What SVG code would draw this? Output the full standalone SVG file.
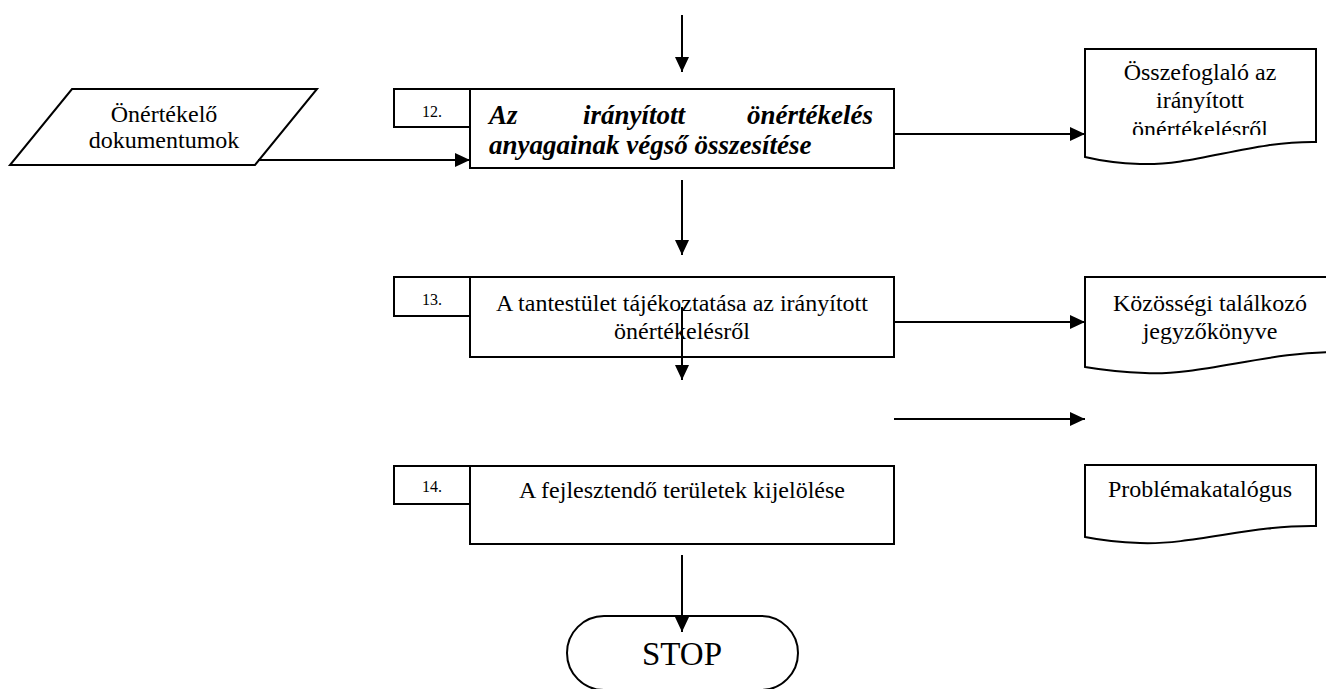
<svg xmlns="http://www.w3.org/2000/svg" width="1326" height="689" viewBox="0 0 1326 689">
  <style>
    .shape { fill: #ffffff; stroke: #000000; stroke-width: 2; }
    .conn { fill: none; stroke: #000000; stroke-width: 2; marker-end: url(#arrow); }
    text { font-family: "Liberation Serif", "Times New Roman", serif; fill: #000000; }
    .lbl { font-size: 24px; text-anchor: middle; }
    .num { font-size: 16px; text-anchor: middle; }
    .title { font-size: 27px; font-weight: bold; font-style: italic; }
    .stop { font-size: 33px; text-anchor: middle; }
  </style>
  <defs>
    <marker id="arrow" markerUnits="userSpaceOnUse" markerWidth="16" markerHeight="16" refX="15" refY="7" orient="auto">
      <path d="M0,0 L15,7 L0,14 Z" fill="#000000"/>
    </marker>
    <clipPath id="clip-doc1">
      <rect x="1085" y="49" width="231" height="86"/>
    </clipPath>
  </defs>
  <rect width="1326" height="689" fill="#ffffff"/>

  <!-- input documents -->
  <g id="input-docs">
    <polygon class="shape" points="72,89 317,89 255,165 10,165"/>
    <text class="lbl" x="164" y="122">Önértékelő</text>
    <text class="lbl" x="164" y="148">dokumentumok</text>
  </g>

  <!-- step 12 -->
  <g id="step12">
    <rect class="shape" x="470" y="89" width="424" height="79"/>
    <rect class="shape" x="394" y="89" width="76" height="38"/>
    <text class="num" x="432" y="117">12.</text>
    <text class="title" y="124"><tspan x="489">Az</tspan><tspan x="583">irányított</tspan><tspan x="873" text-anchor="end">önértékelés</tspan></text>
    <text class="title" x="489" y="154">anyagainak végső összesítése</text>
  </g>

  <!-- summary document -->
  <g id="doc-summary">
    <path class="shape" d="M1085,49 H1316 V142 C1250,141 1195,166 1140,164 Q1110,163 1085,157 Z"/>
    <text class="lbl" x="1200" y="80">Összefoglaló az</text>
    <text class="lbl" x="1200" y="108">irányított</text>
    <text class="lbl" x="1200" y="137" clip-path="url(#clip-doc1)">önértékelésről</text>
  </g>

  <!-- step 13 -->
  <g id="step13">
    <rect class="shape" x="470" y="277" width="424" height="80"/>
    <rect class="shape" x="394" y="277" width="76" height="39"/>
    <text class="num" x="432" y="305">13.</text>
    <text class="lbl" x="682" y="311">A tantestület tájékoztatása az irányított</text>
    <text class="lbl" x="682" y="339">önértékelésről</text>
  </g>

  <!-- meeting minutes document -->
  <g id="doc-minutes">
    <path class="shape" d="M1085,277 H1340 V352 C1270,351 1200,376 1145,373 Q1115,372 1085,367 Z"/>
    <text class="lbl" x="1210" y="311">Közösségi találkozó</text>
    <text class="lbl" x="1210" y="339">jegyzőkönyve</text>
  </g>

  <!-- step 14 -->
  <g id="step14">
    <rect class="shape" x="470" y="466" width="424" height="78"/>
    <rect class="shape" x="394" y="466" width="76" height="38"/>
    <text class="num" x="432" y="492">14.</text>
    <text class="lbl" x="682" y="498">A fejlesztendő területek kijelölése</text>
  </g>

  <!-- problem catalogue document -->
  <g id="doc-catalogue">
    <path class="shape" d="M1085,465 H1316 V526 C1250,525 1195,545 1140,543 Q1110,542 1085,537 Z"/>
    <text class="lbl" x="1200" y="497">Problémakatalógus</text>
  </g>

  <!-- terminator -->
  <g id="stop">
    <rect class="shape" x="567" y="616" width="231" height="74" rx="37" ry="37"/>
    <text class="stop" x="682" y="665">STOP</text>
  </g>

  <!-- connectors -->
  <g id="connectors">
    <path class="conn" d="M682,15 V72"/>
    <path class="conn" d="M258,160 H470"/>
    <path class="conn" d="M894,134 H1085"/>
    <path class="conn" d="M682,180 V255"/>
    <path class="conn" d="M894,322 H1085"/>
    <path class="conn" d="M682,307 V380"/>
    <path class="conn" d="M894,419 H1085"/>
    <path class="conn" d="M682,555 V632"/>
  </g>
</svg>
